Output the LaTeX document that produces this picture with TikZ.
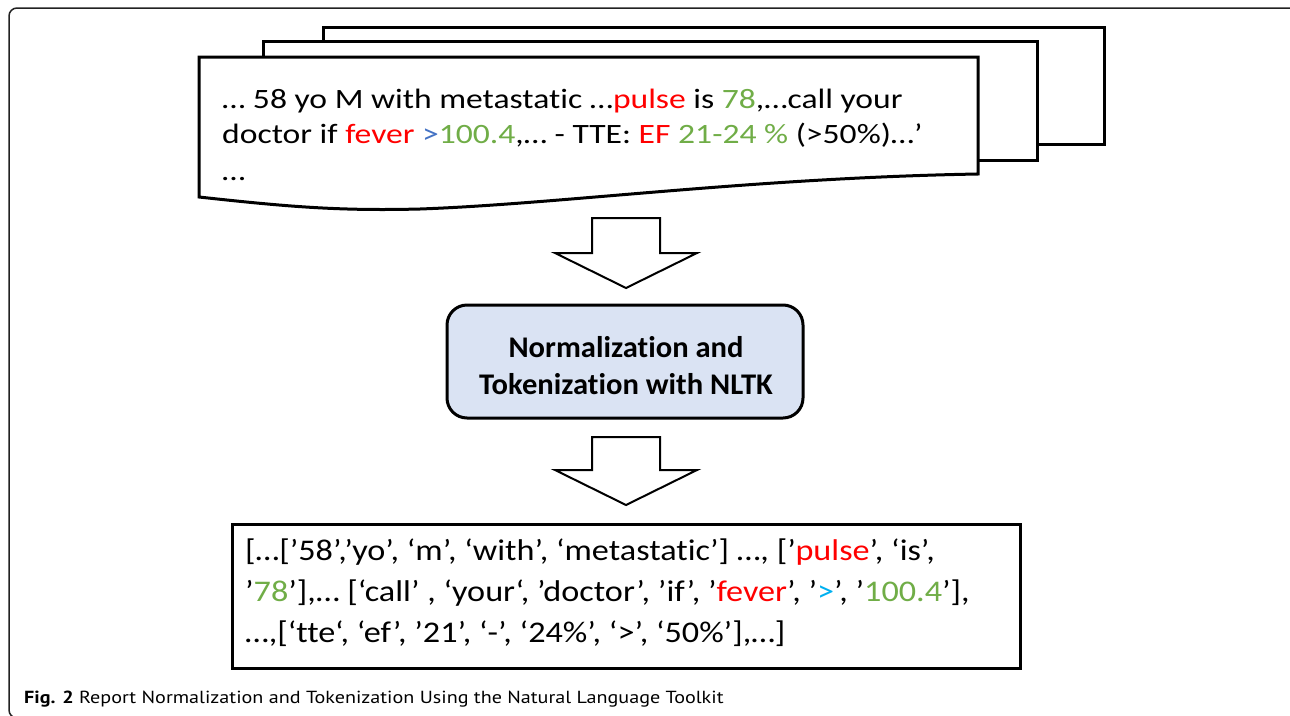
\documentclass[tikz,border=0pt]{standalone}
\usepackage{fontspec}
\setmainfont{Carlito}[Ligatures=NoCommon]
\newfontfamily\srcfont{Carlito}[FakeStretch=1.2,Ligatures=NoCommon]
\newfontfamily\outfont{Carlito}[FakeStretch=1.14,Ligatures=NoCommon]
\newfontfamily\midfont{Carlito}[FakeStretch=1.02,Ligatures=NoCommon]
\newfontfamily\capfont{PT Sans}[FakeStretch=1.15]
\definecolor{myred}{HTML}{FF0000}
\definecolor{mygreen}{HTML}{70AD47}
\definecolor{myblue}{HTML}{4472C4}
\definecolor{mycyan}{HTML}{00B0F0}
\definecolor{boxfill}{HTML}{DAE3F3}
\definecolor{framecol}{HTML}{222222}
\begin{document}
\begin{tikzpicture}[x=1pt,y=-1pt,
  page/.style={draw=black,fill=white,line width=3pt},
  blockarrow/.style={draw=black,fill=white,line width=2pt,line join=miter},
  srcline/.style={anchor=base west,inner sep=0pt,font=\srcfont\fontsize{28}{36}\selectfont},
  outline/.style={anchor=base west,inner sep=0pt,font=\outfont\fontsize{30}{40}\selectfont},
  midbox/.style={draw=black,fill=boxfill,line width=3pt,rounded corners=20pt,
    minimum width=356pt,minimum height=113pt},
  midtext/.style={anchor=base,inner sep=0pt,font=\midfont\bfseries\fontsize{30}{37}\selectfont},
  outbox/.style={draw=black,line width=3pt,minimum width=788pt,minimum height=144pt,inner sep=0pt}
]
\useasboundingbox (0,0) rectangle (1290,715);
% outer frame
\draw[framecol,line width=1.5pt,rounded corners=8pt] (9,8) rectangle (1297,718);
% stacked pages
\draw[page] (323,27) rectangle (1104,144);
\draw[page] (263,41) rectangle (1037,160);
\draw[page] (199,57) -- (978,57) -- (978,174)
  .. controls (750,178) and (560,204) .. (420,209)
  .. controls (340,211) and (290,207) .. (199,197) -- cycle;
\node[srcline] (s1) at (222,108) {… 58 yo M with metastatic …\textcolor{myred}{pulse} is \textcolor{mygreen}{78},…call your};
\node[srcline] (s2) at (222,143) {doctor if \textcolor{myred}{fever} \textcolor{myblue}{>}\textcolor{mygreen}{100.4},… - TTE: \textcolor{myred}{EF} \textcolor{mygreen}{21-24 \%} (>50\%)…’};
\node[srcline] (s3) at (222,180) {…};
% arrow 1
\draw[blockarrow] (592,218) -- (660,218) -- (660,253) -- (697,253) -- (626,288) -- (555,253) -- (592,253) -- cycle;
% middle box
\node[midbox] (norm) at (625,361.5) {};
\node[midtext] (n1) at (626,357) {Normalization and};
\node[midtext] (n2) at (626,394.5) {Tokenization with NLTK};
% arrow 2
\draw[blockarrow] (592,437) -- (660,437) -- (660,470) -- (697,470) -- (626,505) -- (555,470) -- (592,470) -- cycle;
% output box
\node[outbox] (out) at (626,596) {};
\node[outline] (o1) at (245,560) {[…[’58’,’yo’, ‘m’, ‘with’, ‘metastatic’] …, [’\textcolor{myred}{pulse}’, ‘is’,};
\node[outline] (o2) at (245,601) {’\textcolor{mygreen}{78}’],… [‘call’ , ‘your‘, ’doctor’, ’if’, ’\textcolor{myred}{fever}’, ’\textcolor{mycyan}{>}’, ’\textcolor{mygreen}{100.4}’],};
\node[outline] (o3) at (245,642) {…,[‘tte‘, ‘ef’, ’21’, ‘-’, ‘24\%’, ‘>’, ‘50\%’],…]};
% caption
\node[anchor=base west,inner sep=0pt] (cap) at (24,703) {\capfont\fontsize{17.5}{21}\selectfont\textbf{Fig. 2} Report Normalization and Tokenization Using the Natural Language Toolkit};
\end{tikzpicture}
\end{document}
